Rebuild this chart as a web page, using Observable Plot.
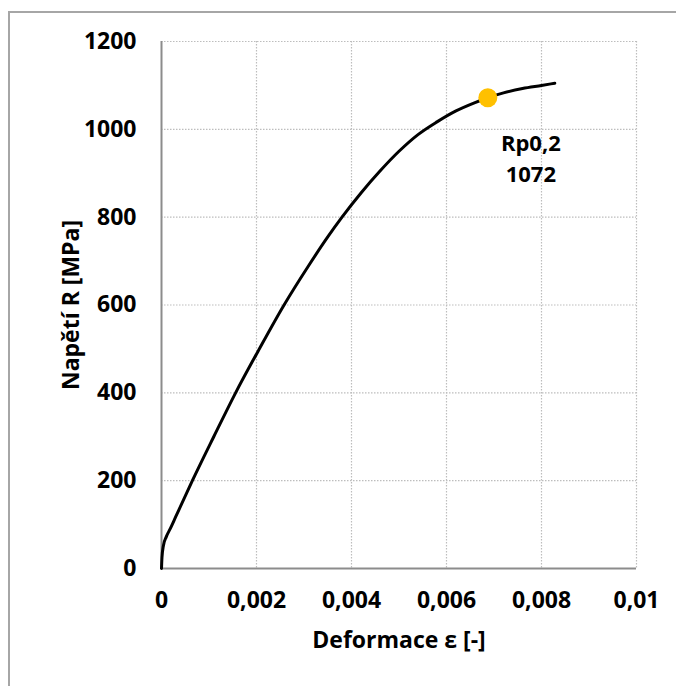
<!DOCTYPE html>
<html>
<head>
<meta charset="utf-8">
<script src="https://cdn.jsdelivr.net/npm/d3@7"></script>
<script src="https://cdn.jsdelivr.net/npm/@observablehq/plot@0.6"></script>
<style>
  html, body { margin: 0; padding: 0; background: #fff; }
  #wrap { position: relative; width: 676px; height: 686px; overflow: hidden; }
  #frame { position: absolute; left: 8px; top: 11px; width: 700px; height: 700px; border: 2px solid #a6a6a6; box-sizing: border-box; }
  #chart { position: absolute; left: 0; top: 0; }
</style>
</head>
<body>
<div id="wrap"><div id="frame"></div><div id="chart"></div></div>
<script>
// Strain (deformation) and stress values
const strain = [0, 0.00001, 0.00004, 0.0001, 0.00019, 0.0003, 0.00065, 0.0011, 0.00156, 0.00207, 0.00258, 0.0031, 0.0035, 0.0038, 0.0042, 0.0046, 0.005, 0.0054, 0.0058, 0.0062, 0.0066, 0.00687, 0.0072, 0.0076, 0.008, 0.00828];
const stress = [0, 25, 52, 72, 92, 118, 200, 300, 400, 502, 600, 690, 755, 800, 855, 905, 950, 988, 1017, 1042, 1061, 1072, 1083, 1093, 1100, 1105];
const rpStrain = [0.00687];
const rpStress = [1072];
const rpLabel = ["Rp0,2\n1072"];
const xTicks = [0, 0.002, 0.004, 0.006, 0.008, 0.01];
const yTicks = [0, 200, 400, 600, 800, 1000, 1200];

const curve = strain.map((x, i) => ({x, y: stress[i]}));
const rp = rpStrain.map((x, i) => ({x, y: rpStress[i], label: rpLabel[i]}));
const fmtX = d => d === 0 ? "0" : String(+d.toFixed(4)).replace(".", ",");
const font = "'Open Sans', sans-serif";
const fs = 23;

const chart = Plot.plot({
  width: 676,
  height: 686,
  marginLeft: 161,
  marginRight: 40,
  marginTop: 41,
  marginBottom: 118,
  style: {fontFamily: font, fontSize: fs + "px", fontWeight: "bold", color: "#000", background: "transparent", overflow: "visible"},
  x: {domain: [0, 0.01]},
  y: {domain: [0, 1200]},
  marks: [
    Plot.gridX(xTicks.slice(1), {stroke: "#bdbdbd", strokeOpacity: 1, strokeWidth: 1.2, strokeDasharray: "1.5,1.5"}),
    Plot.gridY(yTicks.slice(1), {stroke: "#bdbdbd", strokeOpacity: 1, strokeWidth: 1.2, strokeDasharray: "1.5,1.5"}),
    Plot.ruleX([0], {stroke: "#8c8c8c", strokeWidth: 2}),
    Plot.ruleY([0], {stroke: "#8c8c8c", strokeWidth: 2}),
    Plot.axisX({ticks: xTicks, tickFormat: fmtX, tickSize: 0, tickPadding: 23, label: null, fontSize: fs, fontWeight: "bold"}),
    Plot.axisY({ticks: yTicks, tickFormat: d => String(d), tickSize: 0, tickPadding: 25, label: null, fontSize: fs, fontWeight: "bold"}),
    Plot.line(curve, {x: "x", y: "y", stroke: "#000", strokeWidth: 3, curve: "monotone-x"}),
    Plot.dot(rp, {x: "x", y: "y", r: 9.5, fill: "#FFC000", stroke: "none"}),
    Plot.text(rp, {x: "x", y: "y", text: "label", dx: 43, dy: 59, lineHeight: 1.4, fontSize: fs - 1, fontWeight: "bold", fill: "#000", textAnchor: "middle"}),
    Plot.text(["Deformace ε [-]"], {frameAnchor: "bottom", textAnchor: "middle", dy: 79, fontSize: fs, fontWeight: "bold", fill: "#000"}),
    Plot.text(["Napětí R [MPa]"], {frameAnchor: "left", textAnchor: "middle", dx: -90, rotate: -90, fontSize: fs, fontWeight: "bold", fill: "#000"})
  ]
});
document.getElementById("chart").appendChild(chart);
</script>
</body>
</html>
